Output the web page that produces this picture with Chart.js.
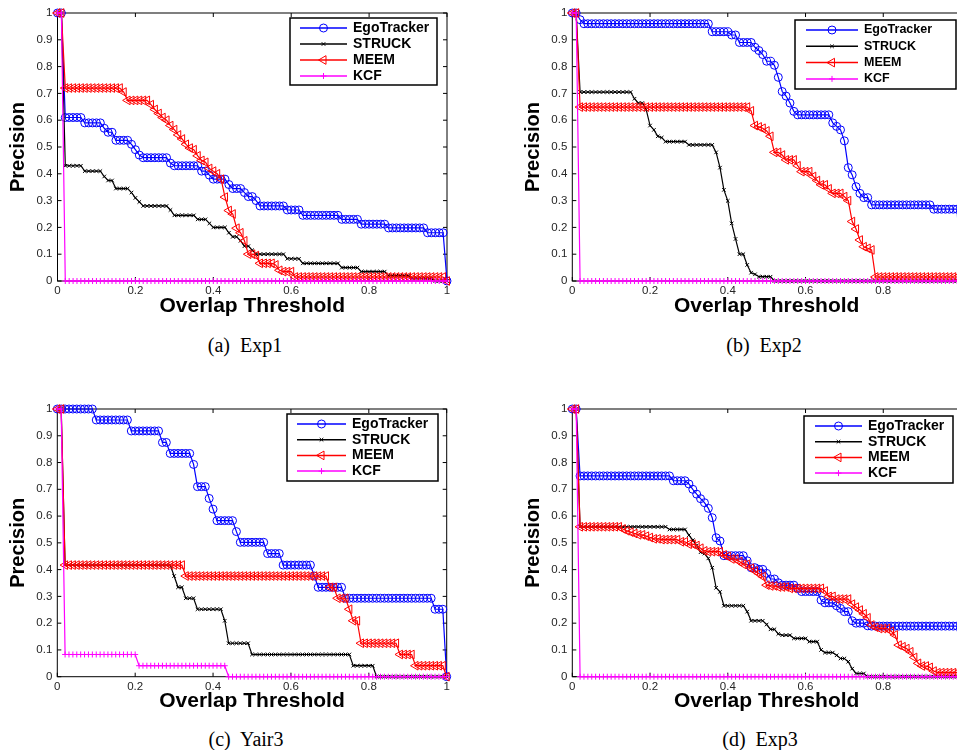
<!DOCTYPE html>
<html>
<head>
<meta charset="utf-8">
<script src="https://cdn.jsdelivr.net/npm/chart.js@4.4.1/dist/chart.umd.min.js"></script>
<style>
  html, body { margin: 0; padding: 0; background: #fff; }
  body { position: relative; width: 957px; height: 750px; overflow: hidden; }
  canvas { position: absolute; }
  .cap {
    position: absolute;
    font-family: "Liberation Serif", "DejaVu Serif", serif;
    font-size: 20px;
    white-space: pre;
    color: #000;
    transform: translate(-50%, -50%);
  }
</style>
</head>
<body>
<canvas id="exp1"  width="470" height="330" style="left:0px;top:0px"></canvas>
<canvas id="exp2"  width="470" height="330" style="left:500px;top:0px"></canvas>
<canvas id="yair3" width="470" height="330" style="left:0px;top:395px"></canvas>
<canvas id="exp3"  width="470" height="330" style="left:500px;top:395px"></canvas>

<div class="cap" style="left:245px;top:345px">(a)  Exp1</div>
<div class="cap" style="left:764px;top:345px">(b)  Exp2</div>
<div class="cap" style="left:246px;top:739px">(c)  Yair3</div>
<div class="cap" style="left:760px;top:739px">(d)  Exp3</div>

<script>
// Overlap thresholds on the x axis
const THRESHOLDS = [
  0, 0.01, 0.02, 0.03, 0.04, 0.05, 0.06, 0.07, 0.08, 0.09,
  0.1, 0.11, 0.12, 0.13, 0.14, 0.15, 0.16, 0.17, 0.18, 0.19,
  0.2, 0.21, 0.22, 0.23, 0.24, 0.25, 0.26, 0.27, 0.28, 0.29,
  0.3, 0.31, 0.32, 0.33, 0.34, 0.35, 0.36, 0.37, 0.38, 0.39,
  0.4, 0.41, 0.42, 0.43, 0.44, 0.45, 0.46, 0.47, 0.48, 0.49,
  0.5, 0.51, 0.52, 0.53, 0.54, 0.55, 0.56, 0.57, 0.58, 0.59,
  0.6, 0.61, 0.62, 0.63, 0.64, 0.65, 0.66, 0.67, 0.68, 0.69,
  0.7, 0.71, 0.72, 0.73, 0.74, 0.75, 0.76, 0.77, 0.78, 0.79,
  0.8, 0.81, 0.82, 0.83, 0.84, 0.85, 0.86, 0.87, 0.88, 0.89,
  0.9, 0.91, 0.92, 0.93, 0.94, 0.95, 0.96, 0.97, 0.98, 0.99,
  1
];
const X_TICKS = [0, 0.2, 0.4, 0.6, 0.8, 1];
const Y_TICKS = [0, 0.1, 0.2, 0.3, 0.4, 0.5, 0.6, 0.7, 0.8, 0.9, 1];
const TRACKERS = ['EgoTracker', 'STRUCK', 'MEEM', 'KCF'];

// (a) Exp1
const A_EGO = [
  1, 1, .61, .61, .61, .61, .61, .59, .59, .59,
  .59, .59, .57, .555, .555, .525, .525, .525, .525, .51,
  .49, .47, .46, .46, .46, .46, .46, .46, .46, .44,
  .43, .43, .43, .43, .43, .43, .43, .41, .41, .395,
  .38, .38, .38, .38, .36, .345, .345, .345, .33, .315,
  .315, .30, .28, .28, .28, .28, .28, .28, .28, .265,
  .265, .265, .265, .245, .245, .245, .245, .245, .245, .245,
  .245, .245, .245, .23, .23, .23, .23, .23, .212, .212,
  .212, .212, .212, .212, .212, .198, .198, .198, .198, .198,
  .198, .198, .198, .198, .198, .18, .18, .18, .18, .18,
  0
];
const A_STRUCK = [
  1, 1, .43, .43, .43, .43, .43, .41, .41, .41,
  .41, .41, .39, .375, .375, .345, .345, .345, .345, .33,
  .31, .295, .28, .28, .28, .28, .28, .28, .28, .265,
  .245, .245, .245, .245, .245, .245, .23, .23, .23, .215,
  .20, .20, .20, .20, .18, .165, .165, .15, .13, .13,
  .115, .10, .10, .10, .10, .10, .10, .10, .10, .083,
  .083, .083, .083, .066, .066, .066, .066, .066, .066, .066,
  .066, .066, .066, .05, .05, .05, .05, .05, .035, .035,
  .035, .035, .035, .035, .035, .02, .02, .02, .02, .02,
  .02, .01, .01, .01, .01, .01, .01, 0, 0, 0,
  0
];
const A_MEEM = [
  1, 1, .72, .72, .72, .72, .72, .72, .72, .72,
  .72, .72, .72, .72, .72, .72, .72, .705, .674, .674,
  .674, .674, .674, .674, .658, .64, .625, .61, .60, .58,
  .565, .545, .53, .51, .496, .49, .467, .45, .443, .42,
  .41, .40, .38, .313, .263, .25, .197, .18, .15, .10,
  .10, .095, .066, .066, .066, .066, .06, .04, .035, .035,
  .035, .015, .015, .015, .015, .015, .015, .015, .015, .015,
  .015, .015, .015, .015, .015, .015, .015, .015, .015, .015,
  .015, .015, .015, .015, .015, .015, .015, .015, .015, .015,
  .015, .015, .015, .015, .015, .015, .015, .015, .015, .015,
  0
];
const A_KCF = [
  1, 1, 0, 0, 0, 0, 0, 0, 0, 0,
  0, 0, 0, 0, 0, 0, 0, 0, 0, 0,
  0, 0, 0, 0, 0, 0, 0, 0, 0, 0,
  0, 0, 0, 0, 0, 0, 0, 0, 0, 0,
  0, 0, 0, 0, 0, 0, 0, 0, 0, 0,
  0, 0, 0, 0, 0, 0, 0, 0, 0, 0,
  0, 0, 0, 0, 0, 0, 0, 0, 0, 0,
  0, 0, 0, 0, 0, 0, 0, 0, 0, 0,
  0, 0, 0, 0, 0, 0, 0, 0, 0, 0,
  0, 0, 0, 0, 0, 0, 0, 0, 0, 0,
  0
];

// (b) Exp2
const B_EGO = [
  1, 1, .975, .96, .96, .96, .96, .96, .96, .96,
  .96, .96, .96, .96, .96, .96, .96, .96, .96, .96,
  .96, .96, .96, .96, .96, .96, .96, .96, .96, .96,
  .96, .96, .96, .96, .96, .96, .93, .93, .93, .93,
  .93, .918, .918, .89, .89, .89, .89, .872, .86, .845,
  .82, .82, .805, .76, .707, .69, .664, .633, .62, .62,
  .62, .62, .62, .62, .62, .62, .62, .59, .577, .564,
  .523, .423, .396, .352, .327, .311, .311, .284, .284, .284,
  .284, .284, .284, .284, .284, .284, .284, .284, .284, .284,
  .284, .284, .284, .268, .268, .268, .268, .268, .268, .268,
  0
];
const B_STRUCK = [
  1, 1, .705, .705, .705, .705, .705, .705, .705, .705,
  .705, .705, .705, .705, .705, .705, .68, .664, .664, .64,
  .58, .564, .54, .535, .52, .52, .52, .52, .52, .52,
  .508, .508, .508, .508, .508, .508, .508, .48, .423, .34,
  .299, .215, .157, .10, .10, .06, .031, .025, .016, .016,
  .016, .016, 0, 0, 0, 0, 0, 0, 0, 0,
  0, 0, 0, 0, 0, 0, 0, 0, 0, 0,
  0, 0, 0, 0, 0, 0, 0, 0, 0, 0,
  0, 0, 0, 0, 0, 0, 0, 0, 0, 0,
  0, 0, 0, 0, 0, 0, 0, 0, 0, 0,
  0
];
const B_MEEM = [
  1, 1, .649, .649, .649, .649, .649, .649, .649, .649,
  .649, .649, .649, .649, .649, .649, .649, .649, .649, .649,
  .649, .649, .649, .649, .649, .649, .649, .649, .649, .649,
  .649, .649, .649, .649, .649, .649, .649, .649, .649, .649,
  .649, .649, .649, .649, .649, .649, .635, .58, .575, .57,
  .56, .54, .48, .48, .47, .452, .452, .452, .43, .408,
  .408, .408, .39, .375, .359, .359, .344, .327, .327, .327,
  .315, .30, .222, .194, .153, .128, .122, .116, .015, .015,
  .015, .015, .015, .015, .015, .015, .015, .015, .015, .015,
  .015, .015, .015, .015, .015, .015, .015, .015, .015, .015,
  0
];
const B_KCF = [
  1, 1, 0, 0, 0, 0, 0, 0, 0, 0,
  0, 0, 0, 0, 0, 0, 0, 0, 0, 0,
  0, 0, 0, 0, 0, 0, 0, 0, 0, 0,
  0, 0, 0, 0, 0, 0, 0, 0, 0, 0,
  0, 0, 0, 0, 0, 0, 0, 0, 0, 0,
  0, 0, 0, 0, 0, 0, 0, 0, 0, 0,
  0, 0, 0, 0, 0, 0, 0, 0, 0, 0,
  0, 0, 0, 0, 0, 0, 0, 0, 0, 0,
  0, 0, 0, 0, 0, 0, 0, 0, 0, 0,
  0, 0, 0, 0, 0, 0, 0, 0, 0, 0,
  0
];

// (c) Yair3
const C_EGO = [
  1, 1, 1, 1, 1, 1, 1, 1, 1, 1,
  .959, .959, .959, .959, .959, .959, .959, .959, .959, .918,
  .918, .918, .918, .918, .918, .918, .918, .875, .875, .834,
  .834, .834, .834, .834, .834, .793, .71, .71, .71, .666,
  .626, .583, .583, .583, .583, .583, .542, .502, .502, .502,
  .502, .502, .502, .502, .46, .46, .46, .46, .417, .417,
  .417, .417, .417, .417, .417, .417, .376, .334, .334, .334,
  .334, .334, .334, .334, .293, .293, .293, .293, .293, .293,
  .293, .293, .293, .293, .293, .293, .293, .293, .293, .293,
  .293, .293, .293, .293, .293, .293, .293, .252, .252, .252,
  0
];
const C_STRUCK = [
  1, 1, .417, .417, .417, .417, .417, .417, .417, .417,
  .417, .417, .417, .417, .417, .417, .417, .417, .417, .417,
  .417, .417, .417, .417, .417, .417, .417, .417, .417, .417,
  .376, .334, .334, .293, .293, .293, .252, .252, .252, .252,
  .252, .252, .252, .209, .125, .125, .125, .125, .125, .125,
  .083, .083, .083, .083, .083, .083, .083, .083, .083, .083,
  .083, .083, .083, .083, .083, .083, .083, .083, .083, .083,
  .083, .083, .083, .083, .083, .083, .041, .041, .041, .041,
  .041, .041, 0, 0, 0, 0, 0, 0, 0, 0,
  0, 0, 0, 0, 0, 0, 0, 0, 0, 0,
  0
];
const C_MEEM = [
  1, 1, .417, .417, .417, .417, .417, .417, .417, .417,
  .417, .417, .417, .417, .417, .417, .417, .417, .417, .417,
  .417, .417, .417, .417, .417, .417, .417, .417, .417, .417,
  .417, .417, .417, .376, .376, .376, .376, .376, .376, .376,
  .376, .376, .376, .376, .376, .376, .376, .376, .376, .376,
  .376, .376, .376, .376, .376, .376, .376, .376, .376, .376,
  .376, .376, .376, .376, .376, .376, .376, .376, .376, .376,
  .334, .334, .293, .293, .293, .252, .209, .209, .125, .125,
  .125, .125, .125, .125, .125, .125, .125, .125, .083, .083,
  .083, .083, .041, .041, .041, .041, .041, .041, .041, .041,
  0
];
const C_KCF = [
  1, 1, .083, .083, .083, .083, .083, .083, .083, .083,
  .083, .083, .083, .083, .083, .083, .083, .083, .083, .083,
  .083, .041, .041, .041, .041, .041, .041, .041, .041, .041,
  .041, .041, .041, .041, .041, .041, .041, .041, .041, .041,
  .041, .041, .041, .041, 0, 0, 0, 0, 0, 0,
  0, 0, 0, 0, 0, 0, 0, 0, 0, 0,
  0, 0, 0, 0, 0, 0, 0, 0, 0, 0,
  0, 0, 0, 0, 0, 0, 0, 0, 0, 0,
  0, 0, 0, 0, 0, 0, 0, 0, 0, 0,
  0, 0, 0, 0, 0, 0, 0, 0, 0, 0,
  0
];

// (d) Exp3
const D_EGO = [
  1, 1, .75, .75, .75, .75, .75, .75, .75, .75,
  .75, .75, .75, .75, .75, .75, .75, .75, .75, .75,
  .75, .75, .75, .75, .75, .75, .732, .732, .732, .732,
  .72, .70, .682, .665, .65, .629, .594, .519, .507, .452,
  .452, .452, .452, .452, .452, .433, .407, .407, .401, .401,
  .386, .365, .365, .351, .342, .342, .342, .342, .33, .318,
  .318, .318, .318, .318, .286, .276, .276, .276, .265, .255,
  .243, .243, .209, .20, .20, .20, .19, .189, .189, .189,
  .189, .189, .189, .189, .189, .189, .189, .189, .189, .189,
  .189, .189, .189, .189, .189, .189, .189, .189, .189, .189,
  0
];
const D_STRUCK = [
  1, 1, .56, .56, .56, .56, .56, .56, .56, .56,
  .56, .56, .56, .56, .56, .56, .56, .56, .56, .56,
  .56, .56, .56, .56, .56, .55, .55, .55, .55, .55,
  .529, .51, .49, .465, .46, .442, .407, .332, .317, .265,
  .265, .265, .265, .265, .265, .243, .209, .209, .209, .209,
  .195, .177, .177, .16, .155, .155, .155, .143, .143, .143,
  .143, .131, .131, .131, .10, .09, .09, .09, .08, .068,
  .068, .056, .03, .012, .012, .012, 0, 0, 0, 0,
  0, 0, 0, 0, 0, 0, 0, 0, 0, 0,
  0, 0, 0, 0, 0, 0, 0, 0, 0, 0,
  0
];
const D_MEEM = [
  1, 1, .56, .56, .56, .56, .56, .56, .56, .56,
  .56, .56, .56, .552, .545, .54, .535, .53, .53, .525,
  .52, .515, .515, .512, .512, .512, .512, .512, .504, .504,
  .495, .495, .49, .48, .47, .467, .467, .467, .467, .455,
  .45, .44, .44, .43, .42, .42, .405, .395, .385, .374,
  .342, .339, .339, .335, .335, .335, .33, .33, .33, .33,
  .33, .33, .33, .33, .33, .32, .30, .30, .29, .29,
  .29, .29, .271, .26, .249, .235, .22, .193, .185, .18,
  .18, .18, .17, .156, .118, .112, .105, .093, .072, .05,
  .04, .04, .035, .021, .015, .015, .015, .015, .015, .015,
  0
];
const D_KCF = [
  1, 1, 0, 0, 0, 0, 0, 0, 0, 0,
  0, 0, 0, 0, 0, 0, 0, 0, 0, 0,
  0, 0, 0, 0, 0, 0, 0, 0, 0, 0,
  0, 0, 0, 0, 0, 0, 0, 0, 0, 0,
  0, 0, 0, 0, 0, 0, 0, 0, 0, 0,
  0, 0, 0, 0, 0, 0, 0, 0, 0, 0,
  0, 0, 0, 0, 0, 0, 0, 0, 0, 0,
  0, 0, 0, 0, 0, 0, 0, 0, 0, 0,
  0, 0, 0, 0, 0, 0, 0, 0, 0, 0,
  0, 0, 0, 0, 0, 0, 0, 0, 0, 0,
  0
];

// Marker look per tracker (MATLAB style: open markers, thin lines)
const LOOK = {
  EgoTracker: { color: '#0000ff', pointStyle: 'circle',   radius: 4,   rotation: 0,   order: 4 },
  STRUCK:     { color: '#000000', pointStyle: 'crossRot', radius: 2.5, rotation: 0,   order: 3 },
  MEEM:       { color: '#ff0000', pointStyle: 'triangle', radius: 5,   rotation: -90, order: 2 },
  KCF:        { color: '#ff00ff', pointStyle: 'cross',    radius: 3,   rotation: 0,   order: 1 },
};

const SANS = '"Liberation Sans", Arial, Helvetica, sans-serif';
const CW = 470, CH = 330;

// Box around the plot area with inward ticks on all four sides
const frame = {
  id: 'frame',
  beforeDatasetsDraw(chart) {
    const { ctx, chartArea: a, scales: { x, y } } = chart;
    ctx.save();
    ctx.strokeStyle = '#000';
    ctx.lineWidth = 1;
    ctx.strokeRect(a.left, a.top, a.right - a.left, a.bottom - a.top);
    ctx.beginPath();
    x.ticks.forEach(t => {
      const p = x.getPixelForValue(t.value);
      ctx.moveTo(p, a.bottom); ctx.lineTo(p, a.bottom - 4);
      ctx.moveTo(p, a.top);    ctx.lineTo(p, a.top + 4);
    });
    y.ticks.forEach(t => {
      const p = y.getPixelForValue(t.value);
      ctx.moveTo(a.left, p);  ctx.lineTo(a.left + 4, p);
      ctx.moveTo(a.right, p); ctx.lineTo(a.right - 4, p);
    });
    ctx.stroke();
    ctx.restore();
  }
};

// Legend box inside the plot, upper right
const boxLegend = {
  id: 'boxLegend',
  afterDraw(chart, args, o) {
    const ctx = chart.ctx;
    ctx.save();
    ctx.fillStyle = '#fff';
    ctx.fillRect(o.x, o.y, o.w, o.h);
    ctx.strokeStyle = '#000';
    ctx.lineWidth = 1.5;
    ctx.strokeRect(o.x, o.y, o.w, o.h);
    chart.data.datasets.forEach((ds, i) => {
      const yy = o.ry + i * o.dy;
      ctx.strokeStyle = ds.borderColor;
      ctx.lineWidth = 1.5;
      ctx.beginPath();
      ctx.moveTo(o.l0, yy);
      ctx.lineTo(o.l1, yy);
      ctx.stroke();
      ctx.lineWidth = 1;
      ctx.fillStyle = 'rgba(0,0,0,0)';
      Chart.helpers.drawPoint(ctx, {
        pointStyle: ds.pointStyle, radius: ds.pointRadius,
        rotation: ds.pointRotation, borderWidth: 1
      }, (o.l0 + o.l1) / 2, yy);
      ctx.fillStyle = '#000';
      ctx.font = `bold ${o.size}px ${SANS}`;
      ctx.textBaseline = 'middle';
      ctx.fillText(ds.label, o.tx, yy);
    });
    ctx.restore();
  }
};

function makePanel(id, pos, area, yTitleX, lg, series) {
  const padTop = area.t - pos.top;
  const padRight = pos.left + CW - area.r;
  const yWidth = area.l - pos.left;
  const xHeight = pos.top + CH - area.b;
  const xTitleY = area.b + 25 - pos.top;

  const datasets = TRACKERS.map((name, k) => {
    const s = LOOK[name];
    return {
      label: name,
      data: THRESHOLDS.map((x, i) => ({ x, y: series[k][i] })),
      borderColor: s.color,
      backgroundColor: s.color,
      borderWidth: 1.2,
      pointStyle: s.pointStyle,
      pointRadius: s.radius,
      pointRotation: s.rotation,
      pointBorderColor: s.color,
      pointBackgroundColor: 'rgba(0,0,0,0)',
      pointBorderWidth: 1,
      tension: 0,
      clip: false,
      order: s.order,
    };
  });

  new Chart(document.getElementById(id), {
    type: 'line',
    data: { datasets },
    plugins: [frame, boxLegend],
    options: {
      responsive: false,
      animation: false,
      events: [],
      layout: { padding: { left: 0, top: padTop, right: padRight, bottom: 0 } },
      plugins: {
        legend: { display: false },
        tooltip: { enabled: false },
        boxLegend: {
          x: lg.x - pos.left, y: lg.y - pos.top, w: lg.w, h: lg.h,
          l0: lg.l0 - pos.left, l1: lg.l1 - pos.left, tx: lg.tx - pos.left,
          ry: lg.ry - pos.top, dy: lg.dy, size: lg.size,
        },
      },
      scales: {
        x: {
          type: 'linear', min: 0, max: 1,
          afterBuildTicks: s => { s.ticks = X_TICKS.map(v => ({ value: v })); },
          afterFit: s => { s.height = xHeight; },
          grid: { drawOnChartArea: false, drawTicks: false },
          border: { display: false },
          ticks: { padding: 3, color: '#262626', maxRotation: 0, autoSkip: false,
                   font: { family: SANS, size: 11.5 }, callback: v => String(v) },
          title: { display: true, text: 'Overlap Threshold', color: '#000',
                   font: { family: SANS, size: 21, weight: 'bold', lineHeight: 1 },
                   padding: { top: 0, bottom: CH - xTitleY - 10.5 } },
        },
        y: {
          type: 'linear', min: 0, max: 1,
          afterBuildTicks: s => { s.ticks = Y_TICKS.map(v => ({ value: v })); },
          afterFit: s => { s.width = yWidth; },
          grid: { drawOnChartArea: false, drawTicks: false },
          border: { display: false },
          ticks: { padding: 5, color: '#262626', font: { family: SANS, size: 11.5 },
                   callback: v => String(v) },
          title: { display: true, text: 'Precision', color: '#000',
                   font: { family: SANS, size: 20, weight: 'bold', lineHeight: 1 },
                   padding: { top: yTitleX - pos.left - 10, bottom: 0 } },
        },
      },
    },
  });
}

makePanel('exp1', { left: 0, top: 0 }, { l: 57.5, r: 447, t: 13, b: 281 }, 18,
  { x: 290, y: 18, w: 147, h: 67, l0: 300, l1: 347, tx: 353, ry: 28, dy: 16, size: 14 },
  [A_EGO, A_STRUCK, A_MEEM, A_KCF]);

makePanel('exp2', { left: 500, top: 0 }, { l: 572.3, r: 961, t: 13, b: 281 }, 533.5,
  { x: 795, y: 20, w: 161, h: 69, l0: 806, l1: 858, tx: 864, ry: 30, dy: 16.3, size: 12.5 },
  [B_EGO, B_STRUCK, B_MEEM, B_KCF]);

makePanel('yair3', { left: 0, top: 395 }, { l: 57.3, r: 446.7, t: 409, b: 676.7 }, 18,
  { x: 287, y: 414, w: 151, h: 67, l0: 297, l1: 346, tx: 352, ry: 424, dy: 15.7, size: 14 },
  [C_EGO, C_STRUCK, C_MEEM, C_KCF]);

makePanel('exp3', { left: 500, top: 395 }, { l: 572.3, r: 961, t: 409, b: 676.7 }, 533.5,
  { x: 804, y: 416, w: 149, h: 67, l0: 815, l1: 862, tx: 868, ry: 426, dy: 15.7, size: 14 },
  [D_EGO, D_STRUCK, D_MEEM, D_KCF]);
</script>
</body>
</html>
